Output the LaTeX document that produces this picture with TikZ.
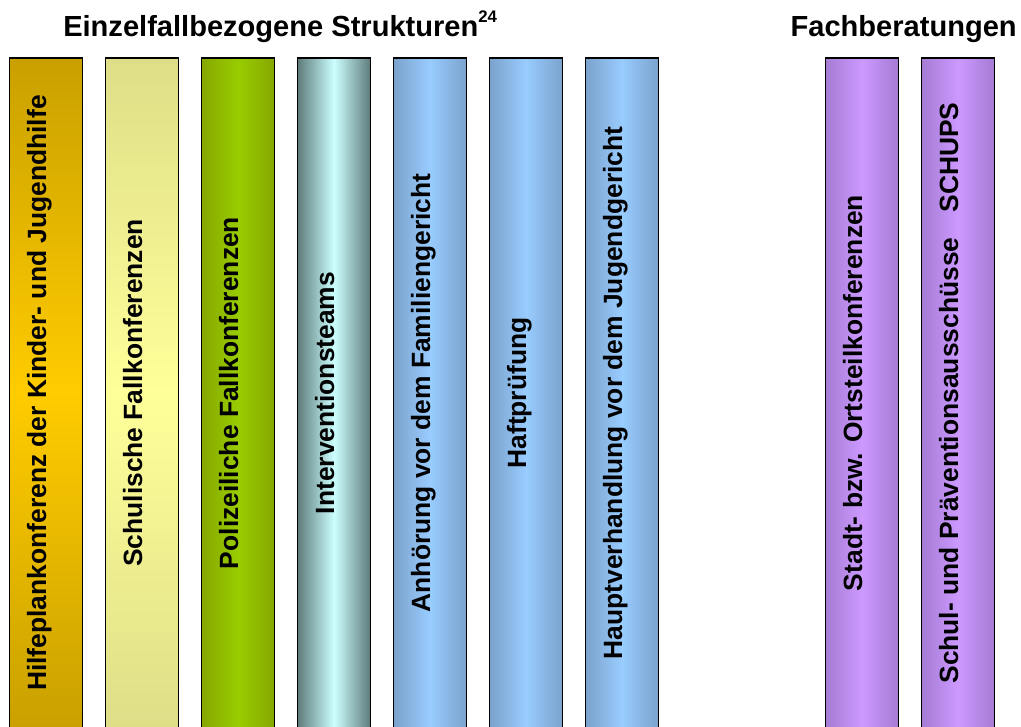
\documentclass[tikz,border=0pt]{standalone}
\usepackage{fontspec}
\setmainfont{Liberation Sans}
\usetikzlibrary{positioning}

\definecolor{goldD}{HTML}{C9A000}
\definecolor{goldL}{HTML}{FFCC00}
\definecolor{paleD}{HTML}{DEDE88}
\definecolor{paleL}{HTML}{FFFF99}
\definecolor{greenD}{HTML}{86A800}
\definecolor{greenL}{HTML}{99CC00}
\definecolor{cyanD}{HTML}{5E7B7B}
\definecolor{cyanL}{HTML}{CCFFFF}
\definecolor{blueD}{HTML}{7AA2CC}
\definecolor{blueL}{HTML}{99CCFF}
\definecolor{lilaD}{HTML}{A57CD3}
\definecolor{lilaL}{HTML}{CC99FF}

\newcommand{\coltext}[1]{\rotatebox{90}{\rule[-0.75em]{0pt}{1.5em}#1}}

\begin{document}
\begin{tikzpicture}[x=0.75pt, y=-0.75pt, node distance=16.05pt]
  \tikzstyle{col} = [draw, rectangle, line width=1.2pt, inner sep=0pt,
    minimum width=54.75pt, minimum height=502.5pt,
    font=\bfseries\fontsize{19.8}{22}\selectfont]
  \tikzstyle{blue} = [left color=blueD, right color=blueD, middle color=blueL]
  \tikzstyle{lila} = [left color=lilaD, right color=lilaD, middle color=lilaL]
  \tikzstyle{head} = [inner sep=0pt, font=\bfseries\fontsize{21.8}{24}\selectfont]
  \useasboundingbox[fill=white] (0,0) rectangle (1021,726);
  \node (einzel) [head, anchor=base west] at (63,36)
  {Einzelfallbezogene Strukturen\raisebox{10.5pt}{\fontsize{12.6}{14}\selectfont 24}};
  \node (fach) [head, anchor=base east] at (1017,36) {Fachberatungen};
  % einzelfallbezogene Strukturen
  \node (hilfe) [col, top color=goldD, bottom color=goldD, middle color=goldL] at (46,393)
  {\coltext{Hilfeplankonferenz der Kinder- und Jugendhilfe}};
  \node (schul) [col, top color=paleD, bottom color=paleD, middle color=paleL, right=of hilfe]
  {\coltext{Schulische Fallkonferenzen}};
  \node (poliz) [col, left color=greenD, right color=greenD, middle color=greenL, right=of schul]
  {\coltext{Polizeiliche Fallkonferenzen}};
  \node (interv) [col, left color=cyanD, right color=cyanD, middle color=cyanL, right=of poliz]
  {\coltext{Interventionsteams}};
  \node (famg) [col, blue, right=of interv]
  {\coltext{Anhörung vor dem Familiengericht}};
  \node (haft) [col, blue, right=of famg]
  {\coltext{Haftprüfung}};
  \node (jugg) [col, blue, right=of haft]
  {\coltext{Hauptverhandlung vor dem Jugendgericht}};
  % Fachberatungen
  \node (stadt) [col, lila] at (862,393)
  {\coltext{Stadt- bzw. Ortsteilkonferenzen}};
  \node (schups) [col, lila, right=of stadt]
  {\coltext{Schul- und Präventionsausschüsse\hspace{0.95em}SCHUPS}};
\end{tikzpicture}
\end{document}
